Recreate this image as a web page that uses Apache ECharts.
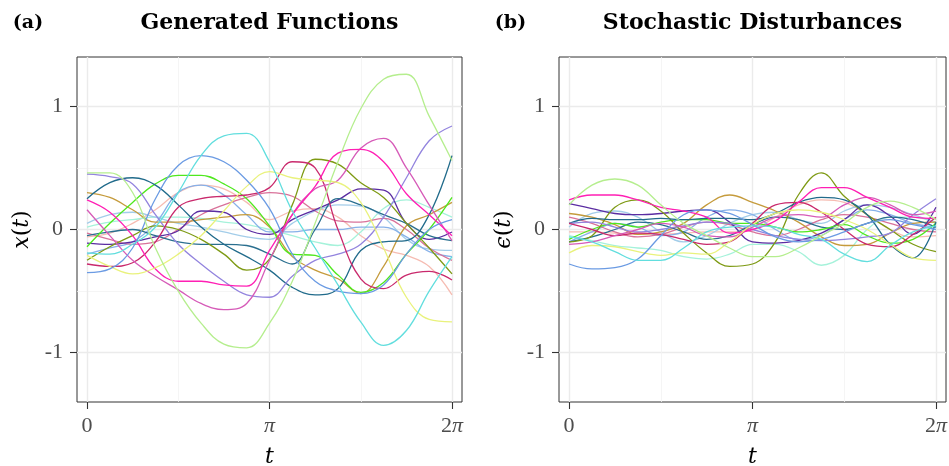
<!DOCTYPE html>
<html><head><meta charset="utf-8">
<script src="https://cdn.jsdelivr.net/npm/echarts@6/dist/echarts.min.js"></script>
<style>html,body{margin:0;padding:0;background:#fff}#c{width:949px;height:466px}</style>
</head><body><div id="c"></div>
<script>
// ---- sample positions (t) ----
const tValues = [0, 0.393, 0.785, 1.178, 1.571, 1.963, 2.356, 2.749, 3.142, 3.534, 3.927, 4.320, 4.712, 5.105, 5.498, 5.890, 6.283];

// ---- axis ticks ----
const xTickValues = [0, 3.14159, 6.28319];
const xTickLabels = ['{n|0}', '{i|π}', '{n|2}{i|π}'];
const xMinorValues = [1.5708, 4.71239];
const yTickValues = [-1, 0, 1];
const yTickLabels = ['-1', '0', '1'];
const yMinorValues = [-0.5, 0.5];
const panelTitles = ['Generated Functions', 'Stochastic Disturbances'];
const panelTags = ['(a)', '(b)'];

// ---- panel (a): generated functions ----
const fnLightGreen    = [0.46, 0.46, 0.30, -0.15, -0.50, -0.76, -0.93, -0.96, -0.76, -0.42, 0.05, 0.55, 0.98, 1.22, 1.26, 0.92, 0.56];
const fnTurquoise     = [-0.19, -0.20, -0.12, 0.02, 0.30, 0.60, 0.76, 0.78, 0.55, 0.15, -0.15, -0.45, -0.75, -0.94, -0.82, -0.50, -0.22];
const fnCornflower    = [-0.35, -0.32, -0.15, 0.25, 0.52, 0.60, 0.55, 0.40, 0.17, -0.20, -0.42, -0.50, -0.52, -0.45, -0.20, 0.00, 0.08];
const fnYellow        = [-0.21, -0.30, -0.36, -0.31, -0.20, -0.05, 0.15, 0.35, 0.47, 0.42, 0.40, 0.38, 0.22, -0.15, -0.55, -0.73, -0.75];
const fnDeepPink      = [0.24, 0.14, -0.05, -0.32, -0.42, -0.42, -0.45, -0.46, -0.17, 0.12, 0.35, 0.62, 0.65, 0.55, 0.29, 0.12, -0.05];
const fnOrchid        = [0.16, -0.05, -0.25, -0.38, -0.49, -0.60, -0.65, -0.60, -0.25, 0.12, 0.33, 0.40, 0.66, 0.74, 0.50, 0.20, -0.09];
const fnCrimson       = [-0.28, -0.30, -0.27, -0.10, 0.18, 0.25, 0.27, 0.28, 0.34, 0.55, 0.50, 0.00, -0.40, -0.48, -0.37, -0.34, -0.41];
const fnMediumPurple  = [0.45, 0.43, 0.37, 0.12, -0.12, -0.28, -0.42, -0.53, -0.55, -0.38, -0.25, -0.20, -0.12, 0.10, 0.42, 0.72, 0.84];
const fnTealA         = [0.25, 0.38, 0.42, 0.36, 0.20, 0.02, -0.12, -0.22, -0.33, -0.47, -0.53, -0.48, -0.17, -0.10, -0.09, 0.12, 0.60];
const fnTealB         = [-0.05, -0.02, 0.00, -0.05, -0.10, -0.12, -0.12, -0.13, -0.20, -0.28, 0.00, 0.25, 0.20, 0.12, 0.05, -0.05, -0.09];
const fnOlive         = [-0.25, -0.14, -0.05, 0.03, 0.00, -0.08, -0.20, -0.33, -0.24, 0.20, 0.57, 0.53, 0.38, 0.26, 0.05, -0.15, -0.36];
const fnBrightGreen   = [-0.14, 0.05, 0.22, 0.37, 0.44, 0.44, 0.37, 0.25, 0.03, -0.20, -0.21, -0.37, -0.51, -0.43, -0.20, 0.00, 0.26];
const fnGoldenrod     = [0.30, 0.26, 0.16, 0.06, 0.06, 0.08, 0.10, 0.12, 0.02, -0.22, -0.33, -0.40, -0.52, -0.30, 0.03, 0.12, 0.22];
const fnSalmon        = [-0.06, -0.03, 0.05, 0.16, 0.30, 0.36, 0.33, 0.22, 0.08, 0.15, 0.17, 0.10, -0.05, -0.16, -0.21, -0.30, -0.53];
const fnSkyBlue       = [0.05, 0.12, 0.14, 0.10, 0.05, 0.02, -0.02, -0.06, -0.08, 0.05, 0.15, 0.20, 0.19, 0.10, -0.08, -0.16, -0.17];
const fnLightBlue     = [-0.20, -0.15, -0.10, 0.05, 0.30, 0.36, 0.28, 0.12, -0.02, -0.02, 0.00, 0.00, 0.02, 0.02, -0.06, -0.18, -0.22];
const fnAquamarine    = [0.02, 0.06, 0.08, 0.10, 0.10, 0.09, 0.06, 0.04, 0.00, -0.05, -0.10, -0.13, -0.02, 0.17, 0.24, 0.18, 0.10];
const fnIndigo        = [-0.11, -0.12, -0.10, -0.06, -0.01, 0.15, 0.14, 0.00, -0.04, 0.08, 0.16, 0.24, 0.33, 0.32, 0.05, -0.08, -0.02];
const fnPaleVioletRed = [-0.03, -0.08, -0.12, -0.10, 0.00, 0.12, 0.20, 0.26, 0.30, 0.27, 0.15, 0.07, 0.06, 0.09, 0.00, -0.15, -0.25];

// ---- panel (b): stochastic disturbances ----
const dLightGreen    = [0.20, 0.36, 0.41, 0.36, 0.20, 0.05, -0.05, -0.15, -0.22, -0.22, -0.15, -0.05, 0.05, 0.18, 0.23, 0.18, 0.08];
const dDeepPink      = [0.24, 0.28, 0.28, 0.24, 0.18, 0.15, 0.10, -0.03, 0.00, 0.07, 0.22, 0.34, 0.34, 0.26, 0.18, 0.10, 0.09];
const dGoldenrod     = [0.13, 0.10, 0.04, -0.04, -0.02, 0.05, 0.20, 0.28, 0.22, 0.15, 0.06, -0.06, -0.13, -0.12, -0.03, 0.05, 0.06];
const dOlive         = [-0.10, -0.05, 0.18, 0.24, 0.15, -0.03, -0.19, -0.30, -0.28, -0.10, 0.28, 0.46, 0.27, 0.12, 0.00, -0.12, -0.18];
const dTealA         = [0.05, 0.09, 0.08, 0.08, 0.09, 0.08, 0.09, 0.09, 0.08, 0.13, 0.22, 0.26, 0.24, 0.12, -0.12, -0.23, 0.06];
const dCornflower    = [-0.28, -0.32, -0.31, -0.24, -0.05, 0.12, 0.16, 0.13, 0.04, -0.06, -0.10, -0.08, -0.02, 0.05, 0.08, 0.04, 0.00];
const dYellow        = [-0.19, -0.13, -0.14, -0.18, -0.21, -0.19, -0.20, -0.10, 0.04, 0.13, 0.16, 0.14, 0.08, 0.00, -0.12, -0.23, -0.25];
const dTurquoise     = [-0.06, -0.10, -0.18, -0.25, -0.25, -0.15, -0.02, 0.02, 0.03, 0.02, -0.04, -0.08, -0.20, -0.26, -0.13, -0.02, 0.03];
const dAquamarine    = [-0.05, -0.09, -0.13, -0.15, -0.17, -0.22, -0.24, -0.20, -0.12, -0.12, -0.18, -0.29, -0.21, 0.00, 0.10, 0.10, 0.05];
const dSkyBlue       = [0.02, 0.13, 0.15, 0.10, -0.02, -0.10, -0.05, 0.05, 0.12, 0.14, 0.08, 0.05, 0.15, 0.20, 0.18, 0.12, 0.06];
const dLightBlue     = [-0.10, -0.02, 0.05, 0.02, -0.05, -0.02, 0.10, 0.16, 0.12, 0.00, -0.08, -0.05, 0.08, 0.16, 0.12, 0.05, 0.02];
const dIndigo        = [0.21, 0.17, 0.13, 0.12, 0.13, 0.15, 0.16, 0.06, -0.10, -0.11, -0.09, -0.03, 0.08, 0.20, 0.11, -0.04, 0.18];
const dMediumPurple  = [0.05, 0.06, 0.02, -0.02, 0.00, 0.03, 0.06, 0.05, 0.00, -0.05, -0.08, -0.09, -0.08, -0.06, -0.03, 0.12, 0.25];
const dSalmon        = [-0.02, -0.02, -0.03, -0.04, -0.04, -0.03, -0.02, -0.02, 0.00, 0.10, 0.20, 0.24, 0.22, 0.12, 0.00, -0.06, -0.05];
const dCrimson       = [0.05, 0.00, -0.05, -0.03, -0.04, -0.08, -0.12, -0.10, 0.05, 0.20, 0.22, 0.14, 0.00, -0.12, -0.14, -0.04, 0.10];
const dOrchid        = [-0.12, -0.10, -0.05, 0.00, 0.05, 0.02, -0.05, -0.06, 0.02, 0.10, 0.12, 0.10, 0.20, 0.26, 0.20, 0.12, 0.15];
const dBrightGreen   = [-0.08, 0.00, 0.05, 0.02, 0.06, 0.08, 0.08, 0.05, 0.05, 0.02, -0.02, 0.00, 0.04, -0.05, -0.11, -0.08, 0.05];
const dPaleVioletRed = [0.10, 0.05, -0.02, -0.06, -0.04, 0.02, 0.06, 0.04, -0.02, -0.05, 0.00, 0.08, 0.12, 0.10, 0.05, 0.00, -0.02];
const dTealB         = [-0.10, -0.06, 0.00, 0.06, 0.04, -0.02, -0.08, -0.05, 0.04, 0.10, 0.08, 0.02, 0.00, 0.05, 0.10, 0.08, 0.02];

const curveColors = {
  lightGreen: '#b5ee8e', turquoise: '#62dede', cornflower: '#6b9be3', yellow: '#e9f27c',
  deepPink: '#ff1fb4', orchid: '#d65bb8', crimson: '#c9296c', mediumPurple: '#9384de',
  tealA: '#216b8b', tealB: '#2a6f8f', olive: '#7e9a14', brightGreen: '#4fe81e',
  goldenrod: '#c59b3c', salmon: '#f6bcb2', skyBlue: '#a3cde9', lightBlue: '#87b1e9',
  aquamarine: '#a5f2da', indigo: '#5b2da2', paleVioletRed: '#d9729a'
};

const panelA = [
  ['salmon', fnSalmon], ['aquamarine', fnAquamarine], ['skyBlue', fnSkyBlue], ['lightBlue', fnLightBlue],
  ['paleVioletRed', fnPaleVioletRed], ['goldenrod', fnGoldenrod], ['indigo', fnIndigo], ['tealB', fnTealB],
  ['brightGreen', fnBrightGreen], ['olive', fnOlive], ['tealA', fnTealA], ['mediumPurple', fnMediumPurple],
  ['crimson', fnCrimson], ['orchid', fnOrchid], ['deepPink', fnDeepPink], ['yellow', fnYellow],
  ['cornflower', fnCornflower], ['turquoise', fnTurquoise], ['lightGreen', fnLightGreen]
];
const panelB = [
  ['salmon', dSalmon], ['aquamarine', dAquamarine], ['skyBlue', dSkyBlue], ['lightBlue', dLightBlue],
  ['paleVioletRed', dPaleVioletRed], ['goldenrod', dGoldenrod], ['indigo', dIndigo], ['tealB', dTealB],
  ['brightGreen', dBrightGreen], ['olive', dOlive], ['tealA', dTealA], ['mediumPurple', dMediumPurple],
  ['crimson', dCrimson], ['orchid', dOrchid], ['deepPink', dDeepPink], ['yellow', dYellow],
  ['cornflower', dCornflower], ['turquoise', dTurquoise], ['lightGreen', dLightGreen]
];

const TICK_FONT = 'Liberation Serif';
const TITLE_FONT = 'DejaVu Serif';
const grids = [
  {left: 77, top: 57, width: 385, height: 345},
  {left: 559, top: 57, width: 387, height: 345}
];
const xRange = [-0.172, 6.455];
const yRange = [-1.4, 1.4];
const yNames = ['{i|x}{n|(}{i|t}{n|)}', '{i|ϵ}{n|(}{i|t}{n|)}'];

const nameRich = {
  n: {fontFamily: TITLE_FONT, fontSize: 22, color: '#000'},
  i: {fontFamily: TITLE_FONT, fontSize: 22, fontStyle: 'italic', color: '#000'}
};
const labRich = {
  n: {fontFamily: TICK_FONT, fontSize: 22, color: '#4d4d4d'},
  i: {fontFamily: TICK_FONT, fontSize: 22, fontStyle: 'italic', color: '#4d4d4d'}
};

const xAxes = [], yAxes = [];
grids.forEach((g, gi) => {
  xAxes.push({
    gridIndex: gi, type: 'value', min: xRange[0], max: xRange[1],
    axisLine: {show: false, onZero: false},
    axisTick: {show: true, customValues: xTickValues, length: 7, lineStyle: {color: '#333', width: 1.1}},
    axisLabel: {customValues: xTickValues, margin: 13, rich: labRich,
      formatter: v => { const i = xTickValues.findIndex(x => Math.abs(x - v) < 1e-4); return i >= 0 ? xTickLabels[i] : ''; }},
    splitLine: {show: true, lineStyle: {color: '#ebebeb', width: 1.4}},
    name: '{i|t}', nameLocation: 'middle', nameGap: 44, nameTextStyle: {rich: nameRich}
  });
  xAxes.push({
    gridIndex: gi, type: 'value', min: xRange[0], max: xRange[1],
    axisLine: {show: false, onZero: false},
    axisTick: {show: false, customValues: xMinorValues},
    axisLabel: {show: false, customValues: xMinorValues},
    splitLine: {show: true, lineStyle: {color: '#f2f2f2', width: 0.8}}
  });
  yAxes.push({
    gridIndex: gi, type: 'value', min: yRange[0], max: yRange[1],
    axisLine: {show: false, onZero: false},
    axisTick: {show: true, customValues: yTickValues, length: 7, lineStyle: {color: '#333', width: 1.1}},
    axisLabel: {customValues: yTickValues, margin: 14, fontFamily: TICK_FONT, fontSize: 22, color: '#4d4d4d',
      formatter: v => { const i = yTickValues.findIndex(y => Math.abs(y - v) < 1e-4); return i >= 0 ? yTickLabels[i] : ''; }},
    splitLine: {show: true, lineStyle: {color: '#ebebeb', width: 1.4}},
    name: yNames[gi], nameLocation: 'middle', nameGap: 44, nameRotate: 90, nameTextStyle: {rich: nameRich}
  });
  yAxes.push({
    gridIndex: gi, type: 'value', min: yRange[0], max: yRange[1],
    axisLine: {show: false, onZero: false},
    axisTick: {show: false, customValues: yMinorValues},
    axisLabel: {show: false, customValues: yMinorValues},
    splitLine: {show: true, lineStyle: {color: '#f2f2f2', width: 0.8}}
  });
});

const series = [];
[panelA, panelB].forEach((panel, pi) => {
  panel.forEach(([key, vals]) => {
    series.push({
      type: 'line', xAxisIndex: pi * 2, yAxisIndex: pi * 2,
      data: tValues.map((t, i) => [t, vals[i]]),
      smooth: 0.4, showSymbol: false, symbol: 'none', silent: true,
      lineStyle: {color: curveColors[key], width: 1.3}
    });
  });
});

const graphics = [];
grids.forEach((g, gi) => {
  graphics.push({type: 'text', x: g.left + g.width / 2, y: 23,
    style: {text: panelTitles[gi], font: 'bold 22px "DejaVu Serif"', fill: '#000', align: 'center', verticalAlign: 'middle'}});
});
graphics.push({type: 'text', x: 28, y: 23, style: {text: panelTags[0], font: 'bold 19px "DejaVu Serif"', fill: '#000', align: 'center', verticalAlign: 'middle'}});
graphics.push({type: 'text', x: 510.5, y: 23, style: {text: panelTags[1], font: 'bold 19px "DejaVu Serif"', fill: '#000', align: 'center', verticalAlign: 'middle'}});

const chart = echarts.init(document.getElementById('c'), null, {renderer: 'canvas'});
chart.setOption({
  animation: false,
  backgroundColor: '#fff',
  grid: grids.map(g => Object.assign({show: true, borderColor: '#333', borderWidth: 1, backgroundColor: 'transparent', containLabel: false, outerBoundsMode: 'none'}, g)),
  xAxis: xAxes,
  yAxis: yAxes,
  series: series,
  graphic: graphics
});
</script></body></html>
